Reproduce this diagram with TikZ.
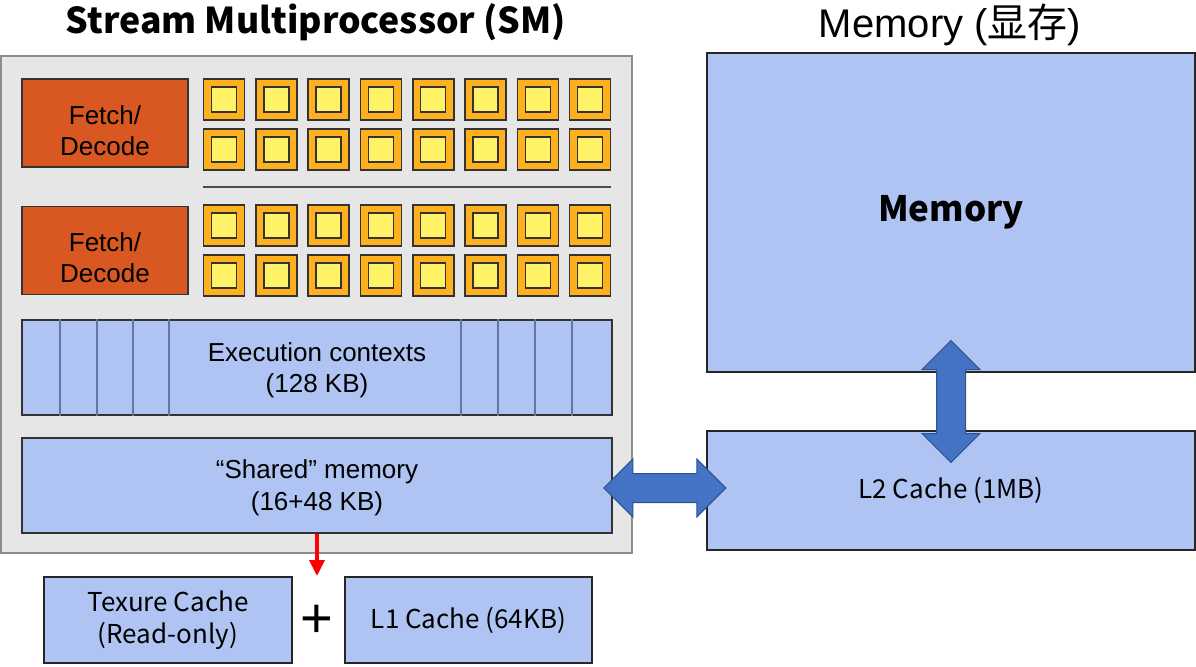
\documentclass[tikz,border=0pt]{standalone}
\usepackage{fontspec}
\setmainfont{Liberation Sans}
\newfontfamily\cjk{Noto Sans CJK SC}
\usetikzlibrary{positioning,calc,shapes.arrows,arrows.meta}

\definecolor{smgray}{RGB}{230,230,230}
\definecolor{smframe}{RGB}{140,140,140}
\definecolor{fetchred}{RGB}{217,88,34}
\definecolor{coreorange}{RGB}{255,176,30}
\definecolor{coreyellow}{RGB}{255,242,102}
\definecolor{memblue}{RGB}{175,196,243}
\definecolor{ctxline}{RGB}{100,118,165}
\definecolor{arrowblue}{RGB}{68,114,196}
\definecolor{arrowedge}{RGB}{47,82,143}

\tikzset{
	block/.style={draw=black!85, line width=1pt, fill=memblue, inner sep=0pt, align=center},
	fetchbox/.style={draw=black!80, line width=0.8pt, fill=fetchred, minimum width=83pt, minimum height=44pt, inner sep=0pt, align=center, font=\fontsize{13}{15.5}\selectfont},
	corebox/.style={draw=black!80, line width=0.8pt, fill=coreorange, minimum size=20.5pt, inner sep=0pt},
	coreinner/.style={draw=black!80, line width=0.7pt, fill=coreyellow, minimum size=12.5pt, inner sep=0pt},
	bigarrow/.style={double arrow, draw=arrowedge, line width=0.5pt, fill=arrowblue, inner sep=7pt, double arrow head extend=7.25pt, minimum height=61pt},
}

\begin{document}
\begin{tikzpicture}[x=0.5pt,y=-0.5pt]
	\useasboundingbox (0,0) rectangle (1196,666);
	
	% titles
	\node[font=\cjk\bfseries\fontsize{17.8}{20}\selectfont] at (316,22) (smtitle) {Stream Multiprocessor (SM)};
	\node[font=\fontsize{20}{22}\selectfont] at (950,25) (memtitle) {Memory ({\cjk 显存})};
	
	% SM
	\node[draw=smframe, line width=1pt, fill=smgray, minimum width=315.5pt, minimum height=248.5pt] at (316.5,304.5) (sm) {};
	
	\node[fetchbox] at (105,123) (fetch1) {\rule{0pt}{17pt}Fetch/\\Decode};
	\node[fetchbox, below=19pt of fetch1] (fetch2) {\rule{0pt}{17pt}Fetch/\\Decode};
	
	\foreach \r/\y in {1/99.5,2/149.5,3/225.5,4/275.5}{
		\foreach \i in {0,...,7}{
			\node[corebox] at (224+52.3*\i,\y) (core-\r-\i) {};
			\node[coreinner] at (core-\r-\i.center) (alu-\r-\i) {};
		}
	}
	\draw[black!70, line width=0.8pt] (core-2-0.south west |- 0,187) -- (core-2-7.south east |- 0,187);
	
	\node[block, draw=black!80, line width=0.8pt, minimum width=295pt, minimum height=47.5pt, font=\fontsize{13}{15.5}\selectfont] at (317,367.5) (ctx) {\rule{0pt}{12pt}Execution contexts\\(128 KB)};
	\foreach \x in {60,97,133,169,461,498,535,572}
		\draw[ctxline, line width=0.8pt] (ctx.north -| \x,0) -- (ctx.south -| \x,0);
	\node[block, draw=black!80, line width=0.8pt, minimum width=295pt, minimum height=47.5pt, font=\fontsize{13}{16}\selectfont] at (317,485.5) (shared) {\rule{0pt}{12pt}“Shared” memory\\(16+48 KB)};
	
	% caches below the SM
	\node[block, minimum width=124pt, minimum height=43pt, font=\cjk\fontsize{13}{16}\selectfont] at (168,620) (texure) {Texure Cache\\(Read-only)};
	\node[block, minimum width=123.5pt, minimum height=43pt, font=\cjk\fontsize{13}{16}\selectfont, right=25.5pt of texure] (l1) {L1 Cache (64KB)};
	\node[font=\fontsize{28}{28}\selectfont] at (317,621) (plus) {+};
	\coordinate (redtip) at (317,576);
	\draw[red, line width=1.8pt, -{Triangle[width=7.5pt,length=8pt]}] (shared.south) -- (redtip);
	
	% memory side
	\node[block, minimum width=244pt, minimum height=159.5pt, font=\cjk\bfseries\fontsize{17.5}{20}\selectfont] at (951,212.5) (memory) {Memory};
	\node[block, minimum width=244pt, minimum height=59.5pt, font=\cjk\fontsize{13}{14}\selectfont, below=28.5pt of memory] (l2) {L2 Cache (1MB)};
	
	\node[bigarrow, shape border rotate=90] at ($(memory.south)!0.5!(l2.north)$) (vlink) {};
	\node[bigarrow, xshift=2.75pt] at ($(shared.east)!0.5!(l2.west)$) (hlink) {};
\end{tikzpicture}
\end{document}
